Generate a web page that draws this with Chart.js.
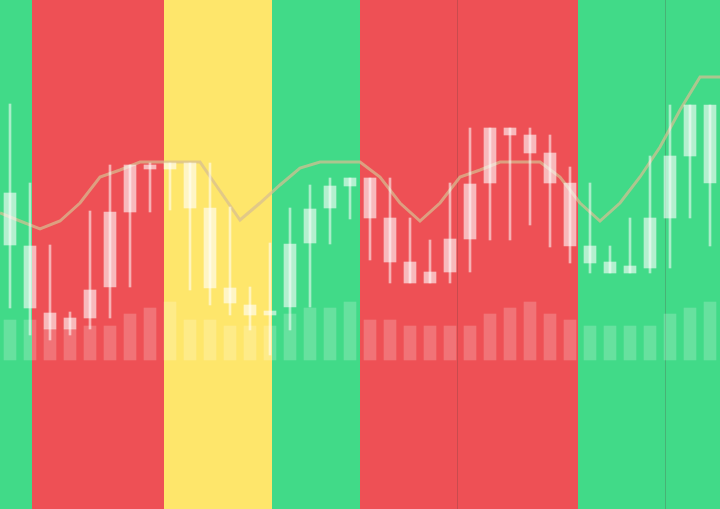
<!DOCTYPE html>
<html>
<head>
<meta charset="utf-8">
<script src="https://cdn.jsdelivr.net/npm/chart.js@4/dist/chart.umd.min.js"></script>
<style>
  html, body { margin: 0; padding: 0; background: #fff; }
  #wrap { width: 720px; height: 509px; position: relative; }
</style>
</head>
<body>
<div id="wrap"><canvas id="myChart"></canvas></div>
<script>
// 36 sessions, prices in arbitrary units
var days = [];
for (var i = 1; i <= 36; i++) days.push("D" + i);

var highs  = [405,326,264,197,298,344,344,346,346,346,346,302,222,266,301,324,331,331,331,331,291,269,326,381,381,381,381,374,342,326,263,291,353,404,404,404];
var lows   = [201,174,169,174,180,191,222,297,299,219,204,194,179,154,179,202,265,290,249,226,226,226,226,237,269,269,284,262,246,236,236,236,236,241,291,263];
var opens  = [316,263,196,180,191,222,297,340,340,346,301,221,204,194,202,266,301,323,331,291,247,237,237,270,326,381,374,356,326,263,247,243,241,291,353,404];
var closes = [264,201,180,191,219,297,344,344,346,301,221,206,194,198,265,300,323,331,291,247,226,226,270,325,381,374,356,326,263,246,236,236,291,353,404,326];
var volumes = [40,40,31,31,34,34,46,52,58,40,40,34,34,34,46,52,52,58,40,40,34,34,34,34,46,52,58,46,40,34,34,34,34,46,52,58];

// moving average, sampled at session boundaries (0..36)
var maValues = [296,288,280,288,306,332,339,347,347,347,347,318,289,306,324,341,347,347,347,332,306,288,306,332,339,347,347,347,332,306,288,306,332,362,399,432,432];

// background bands, edges in session units
var bandEdges = [0, 1.6, 8.2, 13.6, 18, 28.9, 36];
var bandColors = ['#41da88', '#ee5055', '#fee66b', '#41da88', '#ee5055', '#41da88'];
var dividers = [22.85, 33.25];

var wicks = [], bodies = [], maPoints = [];
for (var i = 0; i < days.length; i++) {
  wicks.push([lows[i], highs[i]]);
  bodies.push([Math.min(opens[i], closes[i]), Math.max(opens[i], closes[i])]);
}
for (var j = 0; j < maValues.length; j++) maPoints.push({x: j, y: maValues[j]});

var bandsPlugin = {
  id: 'bands',
  beforeDatasetsDraw: function(chart) {
    var ctx = chart.ctx, xs = chart.scales.x2, a = chart.chartArea;
    ctx.save();
    for (var k = 0; k < bandColors.length; k++) {
      var x0 = xs.getPixelForValue(bandEdges[k]);
      var x1 = xs.getPixelForValue(bandEdges[k + 1]);
      ctx.fillStyle = bandColors[k];
      ctx.fillRect(x0, a.top, x1 - x0, a.bottom - a.top);
    }
    ctx.strokeStyle = 'rgba(90,60,60,0.25)';
    ctx.lineWidth = 1;
    dividers.forEach(function(d) {
      var px = Math.round(xs.getPixelForValue(d)) + 0.5;
      ctx.beginPath();
      ctx.moveTo(px, a.top);
      ctx.lineTo(px, a.bottom);
      ctx.stroke();
    });
    ctx.restore();
  }
};

new Chart("myChart", {
  type: "bar",
  data: {
    labels: days,
    datasets: [{
      type: 'line',
      label: 'MA',
      data: maPoints,
      xAxisID: 'x2',
      yAxisID: 'y',
      borderColor: 'rgba(215,190,145,0.72)',
      borderWidth: 3,
      pointRadius: 0,
      fill: false,
      tension: 0,
      order: 4
    },
    {
      label: 'Volume',
      data: volumes,
      yAxisID: 'yv',
      backgroundColor: 'rgba(255,255,255,0.2)',
      barThickness: 12,
      grouped: false,
      order: 3
    },
    {
      label: 'Wick',
      data: wicks,
      yAxisID: 'y',
      backgroundColor: 'rgba(255,255,255,0.55)',
      barThickness: 2,
      grouped: false,
      order: 2
    },
    {
      label: 'Body',
      data: bodies,
      yAxisID: 'y',
      backgroundColor: 'rgba(255,255,255,0.6)',
      barThickness: 12,
      grouped: false,
      order: 1
    }]
  },
  options: {
    responsive: true,
    maintainAspectRatio: false,
    animation: false,
    layout: { padding: 0 },
    plugins: {
      legend: { display: false },
      tooltip: { enabled: false }
    },
    scales: {
      x: { display: false, offset: true },
      x2: { type: 'linear', display: false, min: 0, max: 36, offset: false, grid: { offset: false } },
      y: { display: false, min: 0, max: 509 },
      yv: { display: false, min: -149, max: 360 }
    }
  },
  plugins: [bandsPlugin]
});
</script>
</body>
</html>
